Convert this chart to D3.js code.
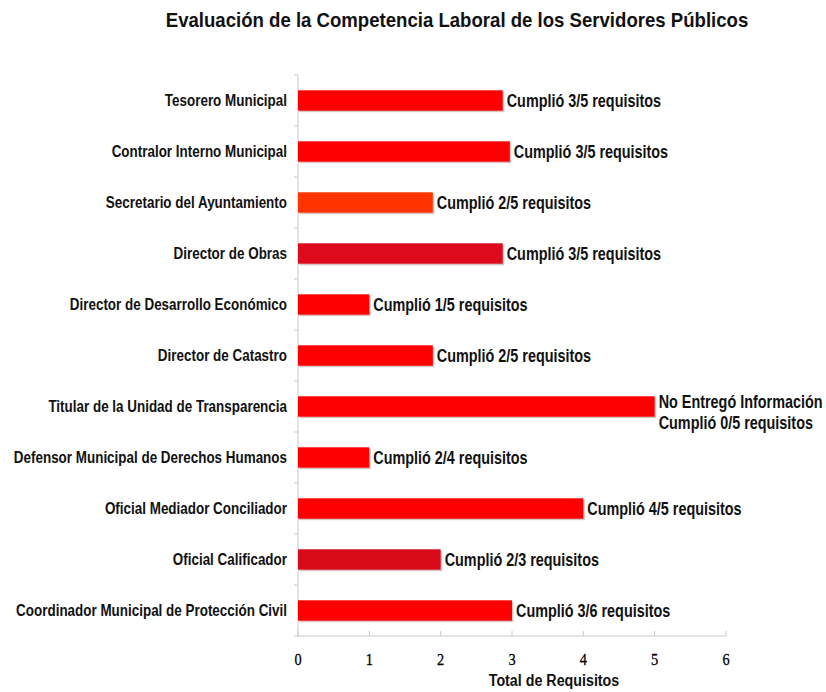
<!DOCTYPE html>
<html>
<head>
<meta charset="utf-8">
<script src="https://cdn.jsdelivr.net/npm/d3@7"></script>
<style>
  body { margin: 0; background: #fff; }
  svg { display: block; }
  .narrow { font-family: "Liberation Sans Narrow", "Arial Narrow", "Liberation Sans", Arial, sans-serif; font-weight: bold; }
</style>
</head>
<body>
<svg id="chart" width="826" height="692"></svg>
<script>
const categories = [
  "Tesorero Municipal",
  "Contralor Interno Municipal",
  "Secretario del Ayuntamiento",
  "Director de Obras",
  "Director de Desarrollo Económico",
  "Director de Catastro",
  "Titular de la Unidad de Transparencia",
  "Defensor Municipal de Derechos Humanos",
  "Oficial Mediador Conciliador",
  "Oficial Calificador",
  "Coordinador Municipal de Protección Civil"
];
const values = [2.87, 2.97, 1.89, 2.87, 1, 1.89, 5, 1, 4, 2, 3];
const barLabels = [
  ["Cumplió 3/5 requisitos"],
  ["Cumplió 3/5 requisitos"],
  ["Cumplió 2/5 requisitos"],
  ["Cumplió 3/5 requisitos"],
  ["Cumplió 1/5 requisitos"],
  ["Cumplió 2/5 requisitos"],
  ["No Entregó Información", "Cumplió 0/5 requisitos"],
  ["Cumplió 2/4 requisitos"],
  ["Cumplió 4/5 requisitos"],
  ["Cumplió 2/3 requisitos"],
  ["Cumplió 3/6 requisitos"]
];
const barColors = ["#fe0000", "#fe0000", "#ff3300", "#dc0a1c", "#fe0000", "#fe0000",
                   "#fe0000", "#fe0000", "#fe0000", "#d90a1a", "#fe0000"];
const xTicks = [0, 1, 2, 3, 4, 5, 6];
const title = "Evaluación de la Competencia Laboral de los Servidores Públicos";
const xTitle = "Total de Requisitos";

const svg = d3.select("#chart");
const mLeft = 298, mRight = 726, mTop = 75, mBottom = 636;

const x = d3.scaleLinear().domain([0, 6]).range([mLeft, mRight]);
const y = d3.scaleBand().domain(categories).range([mTop, mBottom]).paddingInner(0.6).paddingOuter(0.3);

// helper: horizontally condensed text
function narrowText(parent, tx, ty, sx, size, anchor) {
  return parent.append("text").attr("class", "narrow")
    .attr("transform", `translate(${tx},${ty}) scale(${sx},1)`)
    .attr("font-size", size).attr("fill", "#111")
    .attr("text-anchor", anchor || "start");
}

// title
narrowText(svg, 457, 27, 0.93, 20, "middle").text(title);

// axes lines
const axisColor = "#c8c8c8";
svg.append("line").attr("x1", mLeft).attr("x2", mLeft).attr("y1", mTop).attr("y2", mBottom)
  .attr("stroke", axisColor).attr("stroke-width", 1);
svg.append("line").attr("x1", mLeft).attr("x2", mRight).attr("y1", mBottom).attr("y2", mBottom)
  .attr("stroke", axisColor).attr("stroke-width", 1);

// category boundary ticks on y axis
const boundaries = d3.range(categories.length + 1).map(i => mTop + i * (mBottom - mTop) / categories.length);
svg.selectAll(".ytick").data(boundaries).join("line")
  .attr("x1", mLeft - 4).attr("x2", mLeft).attr("y1", d => d).attr("y2", d => d)
  .attr("stroke", axisColor);

// x ticks
svg.selectAll(".xtick").data(xTicks).join("line")
  .attr("x1", d => x(d)).attr("x2", d => x(d)).attr("y1", mBottom - 5).attr("y2", mBottom)
  .attr("stroke", axisColor);
svg.selectAll(".xlab").data(xTicks).join("text")
  .attr("transform", d => `translate(${x(d)},665) scale(0.82,1)`)
  .attr("text-anchor", "middle")
  .attr("font-family", "'Liberation Serif', 'Times New Roman', serif")
  .attr("font-size", 17.5).attr("fill", "#000")
  .attr("stroke", "#000").attr("stroke-width", 0.3)
  .text(d => d);

narrowText(svg, 554, 686, 0.84, 17, "middle").text(xTitle);

// category labels
categories.forEach(c => {
  narrowText(svg, 287, y(c) + y.bandwidth() / 2, 0.84, 16, "end")
    .attr("dy", "0.35em").text(c);
});

const data = categories.map((c, i) => ({c, v: values[i], col: barColors[i], lab: barLabels[i]}));

// shadows
svg.selectAll(".shadow").data(data).join("rect")
  .attr("x", x(0) + 1.5).attr("y", d => y(d.c) + 1.5)
  .attr("width", d => x(d.v) - x(0)).attr("height", y.bandwidth())
  .attr("fill", "#d9c4c4");
// bars
svg.selectAll(".bar").data(data).join("rect")
  .attr("x", x(0)).attr("y", d => y(d.c))
  .attr("width", d => x(d.v) - x(0)).attr("height", y.bandwidth())
  .attr("fill", d => d.col);

// value labels
data.forEach(d => {
  const cy = y(d.c) + y.bandwidth() / 2;
  const n = d.lab.length;
  d.lab.forEach((line, k) => {
    narrowText(svg, x(d.v) + 4, cy + k * 21 - (n - 1) * 5, 0.8, 18, "start")
      .attr("dy", "0.35em").text(line);
  });
});
</script>
</body>
</html>
